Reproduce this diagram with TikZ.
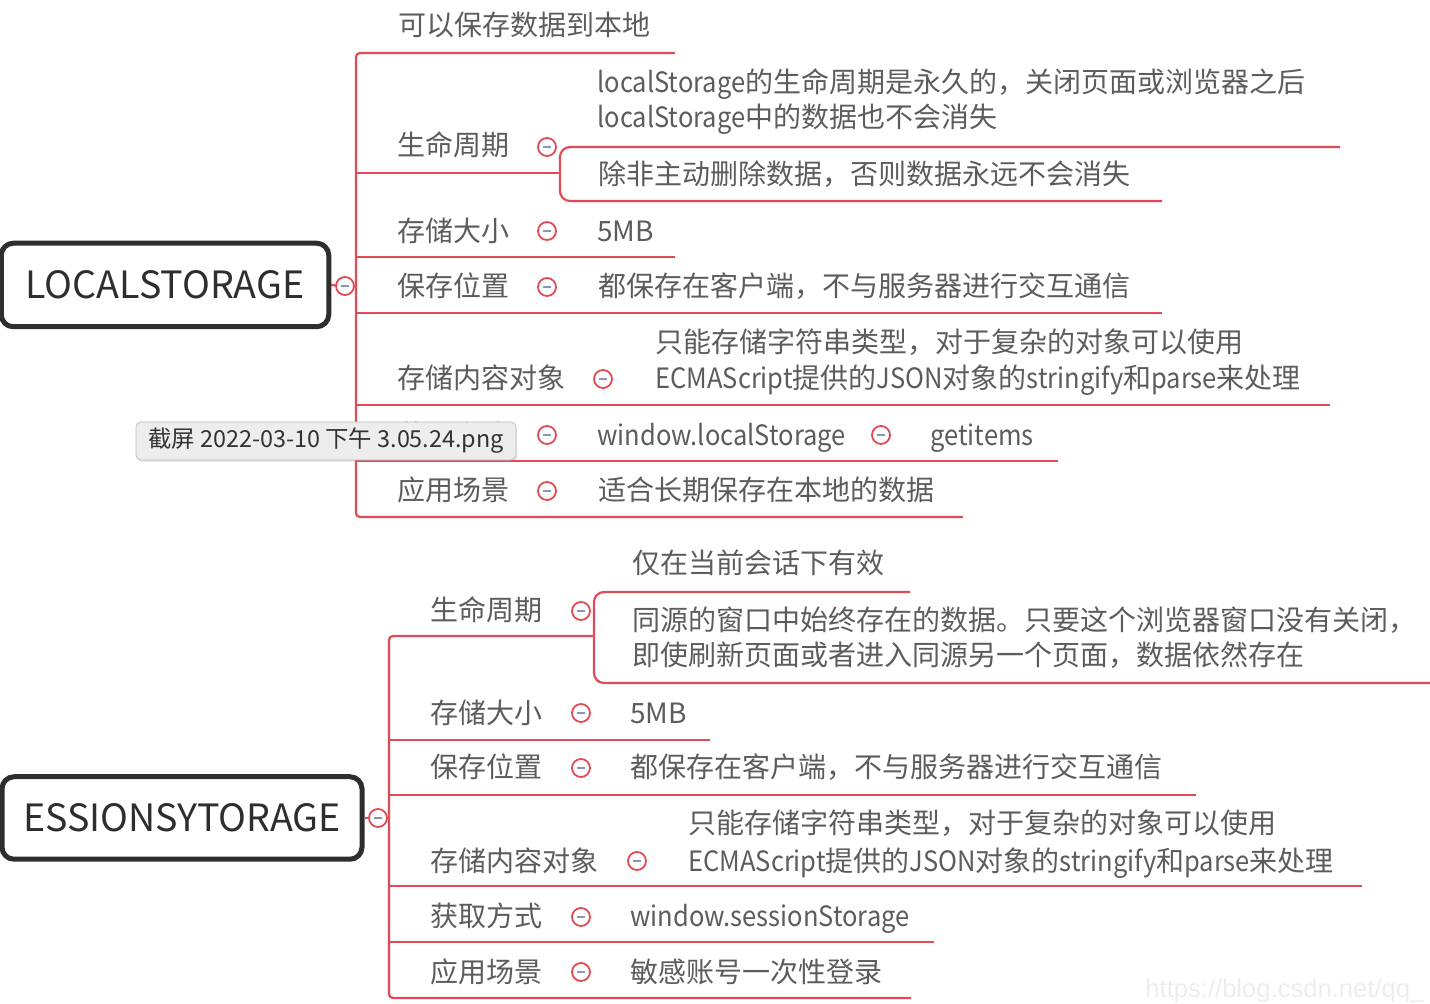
\documentclass[tikz,border=0pt]{standalone}
\usepackage{fontspec}
\newfontfamily\cjk{Noto Sans CJK SC}
\newfontfamily\latn[FakeStretch=0.91]{Noto Sans CJK SC}
\newfontfamily\wmfont{Liberation Sans}
\usetikzlibrary{backgrounds,shadows}

\definecolor{mmred}{HTML}{E04B55}
\definecolor{txtgray}{HTML}{5C5C5C}
\definecolor{rootgray}{HTML}{2E2E2E}
\definecolor{minusblue}{HTML}{8796B8}

\newcommand{\lt}[1]{{\latn #1}}

\tikzset{
  branch/.style={draw=mmred, line width=1.1pt},
  lbl/.style={font=\cjk\fontsize{14}{16}\selectfont, text=txtgray, anchor=base west, inner sep=0pt},
  fold/.style={circle, draw=mmred, line width=0.9pt, fill=white, minimum size=9pt, inner sep=0pt,
    path picture={\draw[minusblue, line width=0.9pt] ([xshift=-2.2pt]path picture bounding box.center) -- ([xshift=2.2pt]path picture bounding box.center);}},
  rootbox/.style={draw=rootgray, line width=2.5pt, rounded corners=6pt, fill=white,
    font=\cjk\fontsize{18.8}{22}\selectfont, text=rootgray, inner sep=0pt},
  tipbox/.style={draw=black!25, fill=black!7, rounded corners=2.5pt, inner sep=0pt,
    font=\cjk\fontsize{11.7}{14}\selectfont, text=black!80,
    drop shadow={opacity=0.2, shadow xshift=0.5pt, shadow yshift=-1pt}},
}

\begin{document}
\begin{tikzpicture}[x=0.5pt, y=-0.5pt]
    \useasboundingbox (0,0) rectangle (1430,1004);

    % LOCALSTORAGE 根节点
    \node[rootbox, minimum width=163.75pt, minimum height=41.75pt] (ls) at (165,285) {LOCALSTORAGE};
    \node[fold] (lsF0) at (345,286) {};

    % LOCALSTORAGE 分支文字
    \node[lbl] (lsA) at (398,36) {可以保存数据到本地};
    \node[lbl] (lsB) at (397,156) {生命周期};
    \node[fold] (lsFB) at (547,147) {};
    \node[lbl] (lsB1a) at (597,93) {\lt{localStorage}的生命周期是永久的，关闭页面或浏览器之后};
    \node[lbl] (lsB1b) at (597,128) {\lt{localStorage}中的数据也不会消失};
    \node[lbl] (lsB2) at (598,185) {除非主动删除数据，否则数据永远不会消失};
    \node[lbl] (lsC) at (397,242) {存储大小};
    \node[fold] (lsFC) at (547,231) {};
    \node[lbl] (lsC1) at (597,242) {5MB};
    \node[lbl] (lsD) at (397,297) {保存位置};
    \node[fold] (lsFD) at (547,287) {};
    \node[lbl] (lsD1) at (598,297) {都保存在客户端，不与服务器进行交互通信};
    \node[lbl] (lsE) at (397,389) {存储内容对象};
    \node[fold] (lsFE) at (603,379) {};
    \node[lbl] (lsE1a) at (655,353) {只能存储字符串类型，对于复杂的对象可以使用};
    \node[lbl] (lsE1b) at (655,389) {\lt{ECMAScript}提供的\lt{JSON}对象的\lt{stringify}和\lt{parse}来处理};
    \node[lbl] (lsF) at (397,446) {获取方式};
    \node[fold] (lsFF) at (547,435) {};
    \node[lbl] (lsF1) at (597,446) {\lt{window.localStorage}};
    \node[fold] (lsFF1) at (881,435) {};
    \node[lbl] (lsF2) at (930,446) {\lt{getitems}};
    \node[lbl] (lsG) at (397,501) {应用场景};
    \node[fold] (lsFG) at (547,491) {};
    \node[lbl] (lsG1) at (598,501) {适合长期保存在本地的数据};

    % ESSIONSYTORAGE 根节点
    \node[rootbox, minimum width=180pt, minimum height=41.25pt] (ss) at (182,818) {ESSIONSYTORAGE};
    \node[fold] (ssF0) at (378,818) {};

    % ESSIONSYTORAGE 分支文字
    \node[lbl] (ssB) at (430,621) {生命周期};
    \node[fold] (ssFB) at (581,611) {};
    \node[lbl] (ssB1) at (632,574) {仅在当前会话下有效};
    \node[lbl] (ssB2a) at (632,631) {同源的窗口中始终存在的数据。只要这个浏览器窗口没有关闭，};
    \node[lbl] (ssB2b) at (632,666) {即使刷新页面或者进入同源另一个页面，数据依然存在};
    \node[lbl] (ssC) at (430,724) {存储大小};
    \node[fold] (ssFC) at (581,713) {};
    \node[lbl] (ssC1) at (630,724) {5MB};
    \node[lbl] (ssD) at (430,778) {保存位置};
    \node[fold] (ssFD) at (581,768) {};
    \node[lbl] (ssD1) at (630,778) {都保存在客户端，不与服务器进行交互通信};
    \node[lbl] (ssE) at (430,871) {存储内容对象};
    \node[fold] (ssFE) at (637,861) {};
    \node[lbl] (ssE1a) at (688,834) {只能存储字符串类型，对于复杂的对象可以使用};
    \node[lbl] (ssE1b) at (688,871) {\lt{ECMAScript}提供的\lt{JSON}对象的\lt{stringify}和\lt{parse}来处理};
    \node[lbl] (ssF) at (430,927) {获取方式};
    \node[fold] (ssFF) at (581,917) {};
    \node[lbl] (ssF1) at (630,927) {\lt{window.sessionStorage}};
    \node[lbl] (ssG) at (430,982) {应用场景};
    \node[fold] (ssFG) at (581,972) {};
    \node[lbl] (ssG1) at (630,982) {敏感账号一次性登录};

    % 连线（放在底层）
    \begin{scope}[on background layer]
        \draw[branch] (ls.east) -- (lsF0) -- (356,286);
        \draw[branch, rounded corners=2pt] (675,53) -| (356,517) -- (963,517);
        \draw[branch] (356,173) -- (560,173);
        \draw[branch, rounded corners=5pt] (1340,147) -| (560,201) -- (1162,201);
        \draw[branch] (356,257) -- (675,257);
        \draw[branch] (356,313) -- (1162,313);
        \draw[branch] (356,405) -- (1330,405);
        \draw[branch] (356,461) -- (1058,461);

        \draw[branch] (ss.east) -- (ssF0) -- (389,818);
        \draw[branch, rounded corners=2pt] (594,636) -| (389,998) -- (911,998);
        \draw[branch, rounded corners=5pt] (910,592) -| (594,683) -- (1430,683);
        \draw[branch] (389,740) -- (710,740);
        \draw[branch] (389,795) -- (1196,795);
        \draw[branch] (389,886) -- (1362,886);
        \draw[branch] (389,942) -- (934,942);
    \end{scope}

    % 截图文件名提示框
    \node[tipbox, minimum width=190pt, minimum height=19pt] (tip) at (326,441) {截屏 2022-03-10 下午 3.05.24.png};

    % 水印
    \node[font=\wmfont\fontsize{12.8}{14}\selectfont, text=black!7, anchor=base west, inner sep=0pt] (wm) at (1145,997) {https://blog.csdn.net/qq\_};
\end{tikzpicture}
\end{document}
